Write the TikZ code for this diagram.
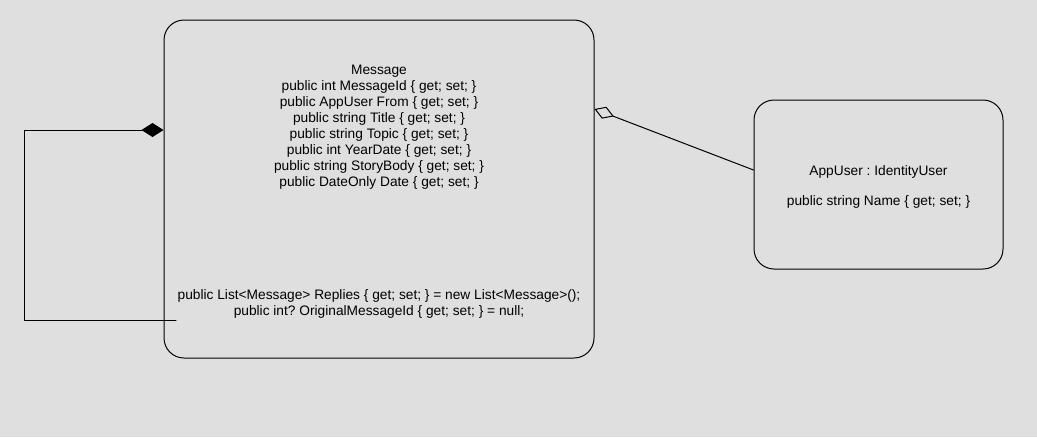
\documentclass[tikz,border=0pt]{standalone}
\usepackage{fontspec}
\setmainfont{Liberation Sans}
\usetikzlibrary{arrows.meta}
\definecolor{canvas}{RGB}{223,223,223}
\tikzset{
  classbox/.style={draw,line width=0.75pt,rounded corners=15pt,inner sep=0pt},
  classtext/.style={align=center,inner sep=0pt,font=\fontsize{10.3}{12}\selectfont\frenchspacing},
  composition/.style={line width=0.75pt,-{Diamond[length=16.5pt,width=10.5pt]}},
  aggregation/.style={line width=0.75pt,-{Diamond[open,length=15.5pt,width=9.5pt]}}
}

\begin{document}
\begin{tikzpicture}[line cap=round,line join=round,x=0.75pt,y=-0.75pt]
				\fill[canvas] (0,0) rectangle (1037,437);
				\useasboundingbox (0,0) rectangle (1037,437);
				% classes
				\node[classbox,minimum width=322.5pt,minimum height=253.5pt] (msg) at (379,189) {};
				\node[classbox,minimum width=186.75pt,minimum height=126.75pt] (usr) at (878.5,184.5) {};
				\node[classtext] (msgattr) at (379,127.5) {Message\\
					public int MessageId \{ get; set; \}\\
					public AppUser From \{ get; set; \}\\
					public string Title \{ get; set; \}\\
					public string Topic \{ get; set; \}\\
					public int YearDate \{ get; set; \}\\
					public string StoryBody \{ get; set; \}\\
					public DateOnly Date \{ get; set; \}};
				\node[classtext] (msgrel) at (379,304) {public List<Message> Replies \{ get; set; \} = new List<Message>();\\
					public int? OriginalMessageId \{ get; set; \} = null;};
				\node[classtext] (usrattr) at (878.5,187) {AppUser : IdentityUser\\[11pt]
					public string Name \{ get; set; \}};
				% self reference
				\coordinate (loopin) at (176,320);
				\coordinate (loopout) at (24,320);
				\coordinate (loopend) at (msg.west |- 0,130);
				\draw[composition] (loopin) -- (loopout) |- (loopend);
				% from user
				\coordinate (usrend) at (usr.west |- 0,170);
				\coordinate (msgend) at (msg.east |- 0,109);
				\draw[aggregation] (usrend) -- (msgend);
\end{tikzpicture}
\end{document}
